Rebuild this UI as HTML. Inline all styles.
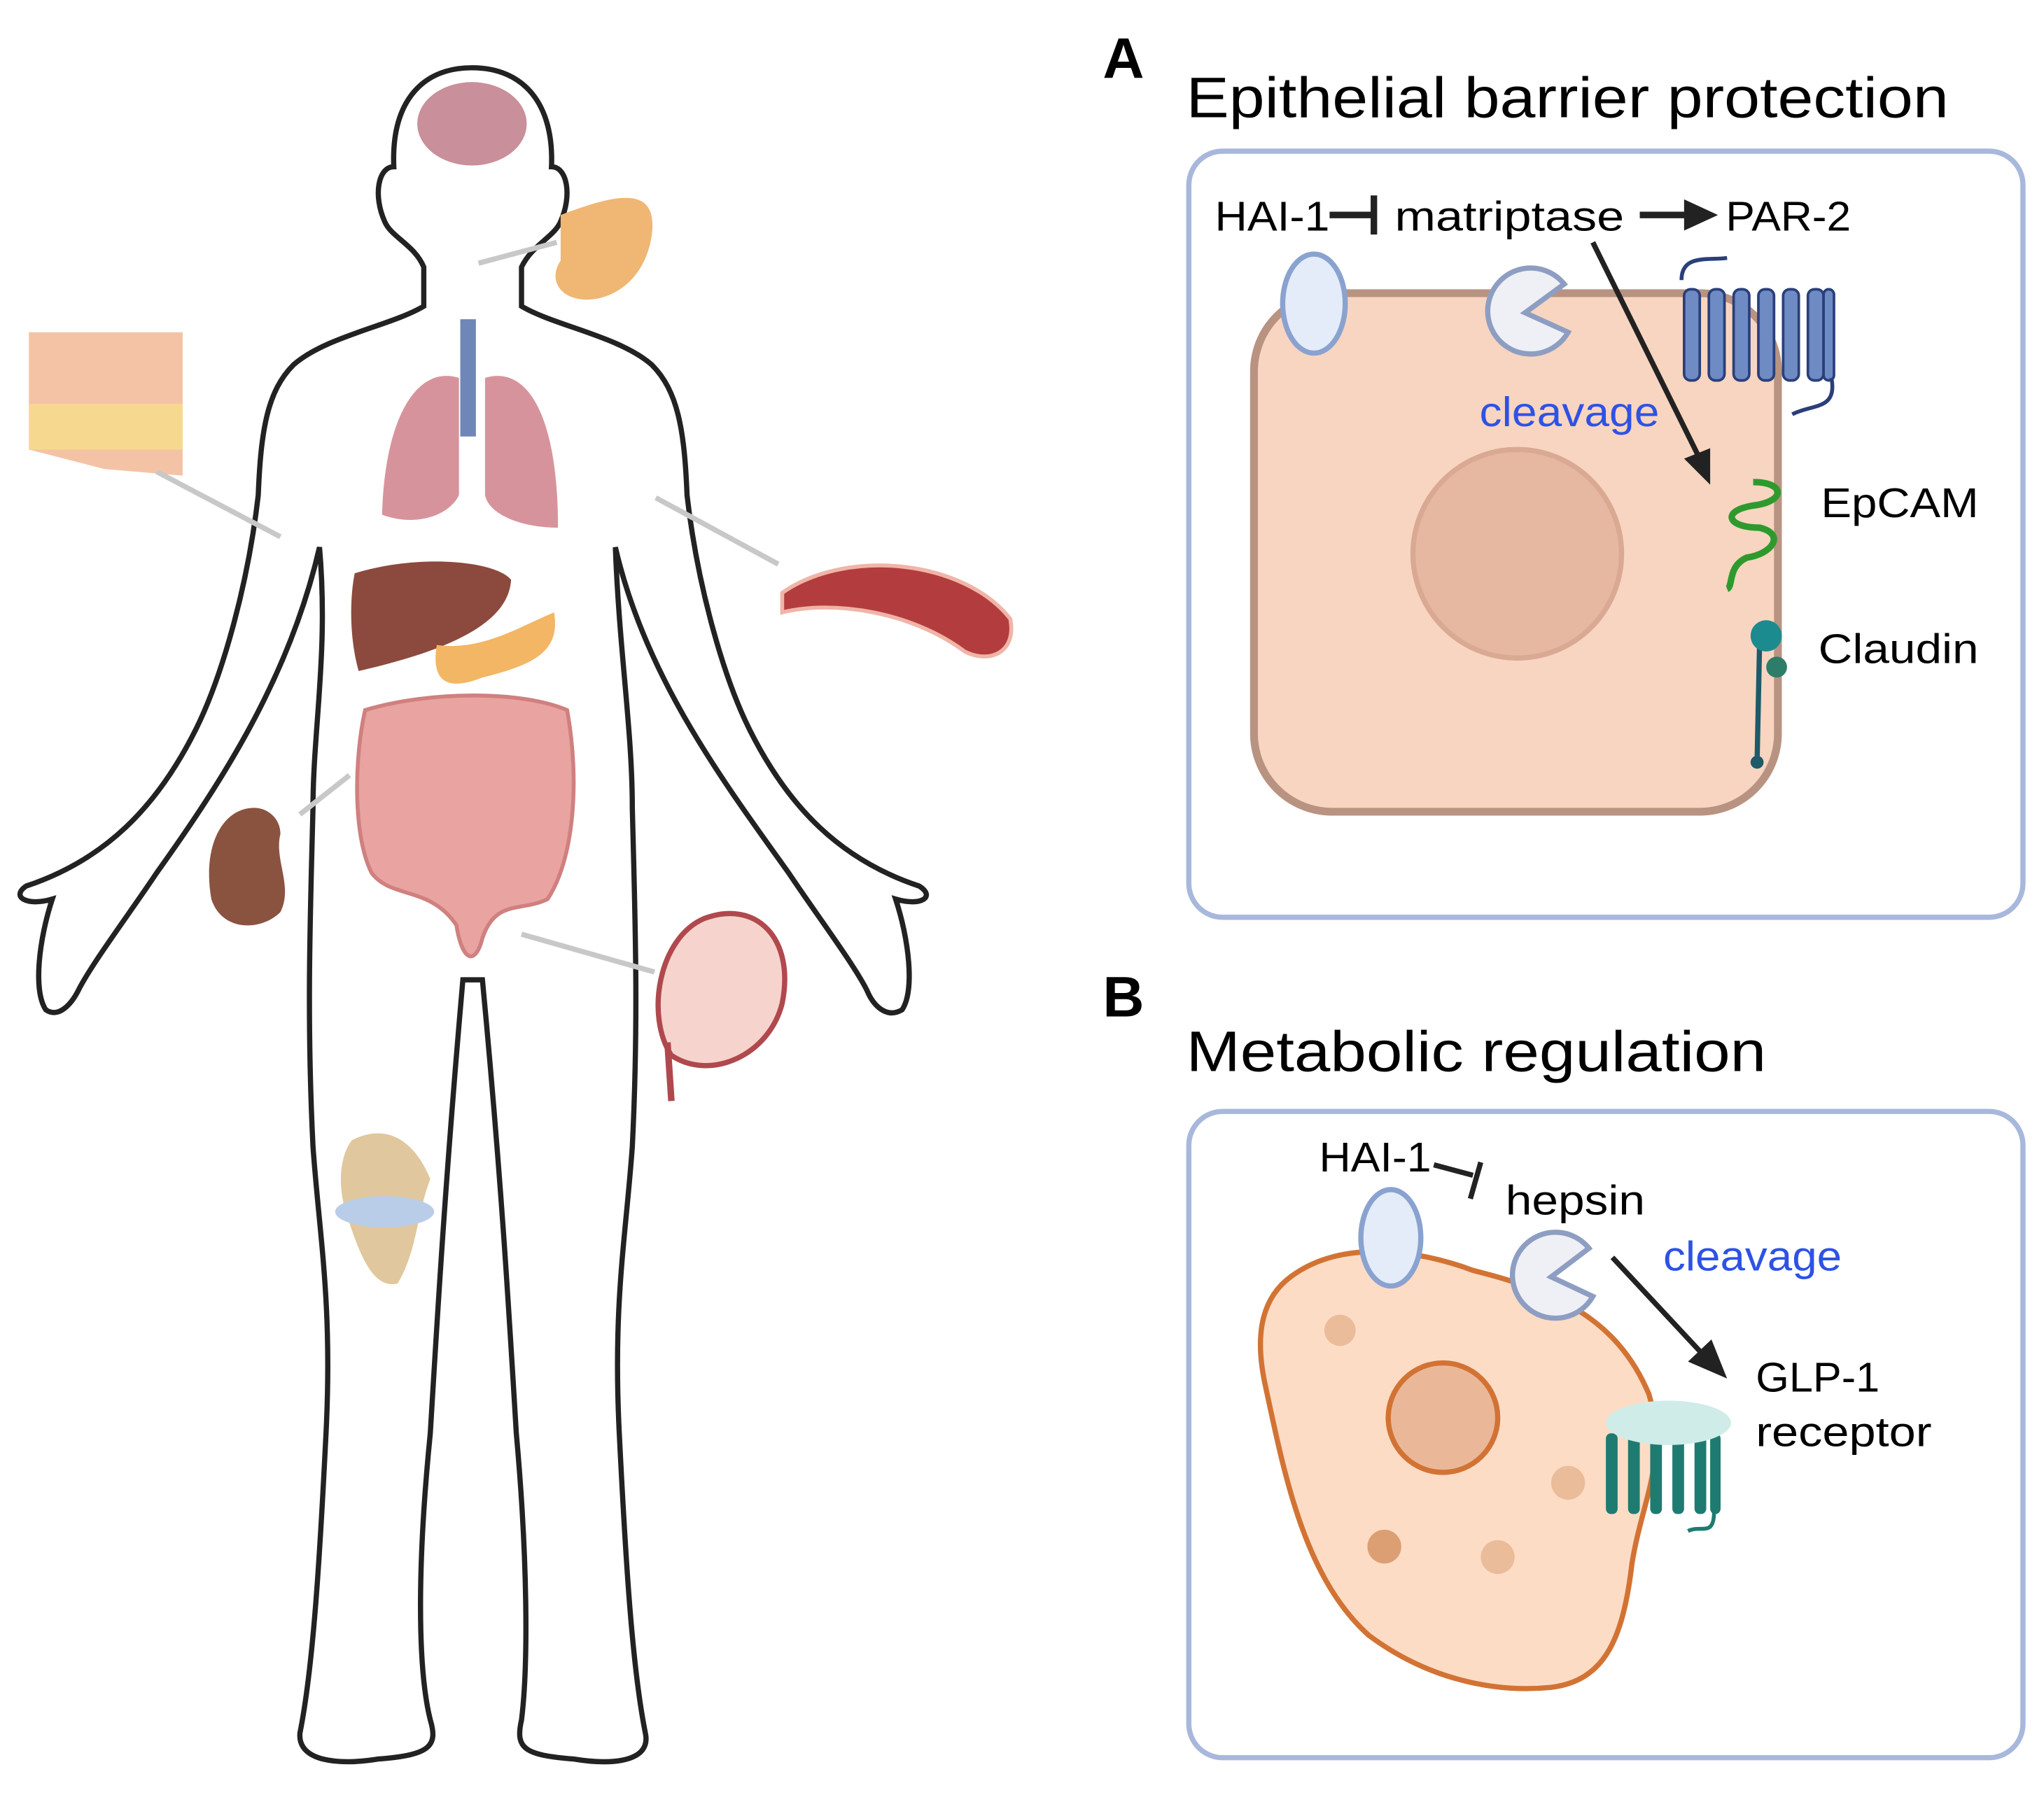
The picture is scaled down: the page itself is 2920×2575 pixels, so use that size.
<!DOCTYPE html>
<html><head><meta charset="utf-8"><style>html,body{margin:0;padding:0;background:#fff}svg{display:block}text{font-family:"Liberation Sans",sans-serif}</style></head><body>
<svg width="2920" height="2575" viewBox="0 0 1568 1383" xmlns="http://www.w3.org/2000/svg">
<rect width="1568" height="1383" fill="#fff"/>
<path d="M362,52 C322,52 300,80 302,128 C290,128 286,150 295,170 C300,182 318,188 325,205 L325,235 C300,250 250,258 225,280 C205,300 200,330 198,380 C190,450 170,520 150,560 C120,620 80,660 20,680 C8,688 20,696 40,690 C30,720 25,760 35,775 C45,782 55,770 60,760 C70,740 100,700 120,670 C170,600 222,520 245,420 C252,500 240,560 240,620 C238,700 235,780 240,880 C245,950 255,1000 250,1100 C245,1200 240,1280 230,1330 C228,1352 260,1355 290,1350 C330,1347 336,1340 330,1320 C320,1280 320,1200 330,1100 C336,1000 342,900 355,752 L370,752 C384,900 390,1000 396,1100 C405,1200 405,1280 400,1320 C395,1342 402,1347 440,1350 C470,1355 500,1352 495,1330 C485,1280 480,1200 475,1100 C470,1000 480,950 485,880 C490,780 487,700 485,620 C485,560 475,500 472,420 C495,520 555,600 605,670 C625,700 655,740 665,760 C670,772 680,782 692,775 C702,760 697,720 687,690 C707,696 718,688 705,680 C645,660 605,620 575,560 C555,520 535,450 527,380 C525,330 520,300 500,280 C475,258 425,250 400,235 L400,205 C408,188 425,182 430,170 C439,150 435,128 423,128 C425,80 402,52 362,52 Z" fill="#fff" stroke="#222" stroke-width="4"/>
<ellipse cx="362" cy="95" rx="42" ry="32" fill="#c98f9a"/>
<rect x="353" y="245" width="12" height="90" fill="#6f86b8"/>
<path d="M352,290 C320,280 295,320 293,395 C320,405 345,395 352,380 Z" fill="#d7939c"/>
<path d="M372,290 C405,280 428,320 428,405 C400,405 375,395 372,380 Z" fill="#d7939c"/>
<path d="M272,440 C320,425 380,430 392,445 C390,480 340,500 275,515 C268,490 268,460 272,440 Z" fill="#8b4a3d"/>
<path d="M335,495 C370,500 400,480 425,470 C430,500 410,510 370,520 C345,530 330,525 335,495 Z" fill="#f2b664"/>
<path d="M280,545 C330,530 400,530 435,545 C445,600 440,660 420,690 C400,700 380,690 370,720 C365,740 355,740 350,710 C330,680 300,690 285,670 C270,640 272,580 280,545 Z" fill="#e9a3a1" stroke="#cf807f" stroke-width="3"/>
<path d="M195,620 C170,620 155,650 162,690 C170,715 200,715 215,700 C225,680 210,660 215,640 C215,628 205,620 195,620 Z" fill="#8a5340"/>
<path d="M430,165 C470,150 505,140 500,180 C495,215 470,230 450,230 C430,230 420,215 430,200 Z" fill="#efb773"/>
<path d="M22,255 L140,255 L140,365 L80,360 L22,345 Z" fill="#f4c3a5"/>
<rect x="22" y="310" width="118" height="35" fill="#f6d98f"/>
<path d="M600,455 C650,420 740,430 775,475 C780,500 760,510 740,500 C700,470 640,460 600,470 Z" fill="#b33d3e" stroke="#f0b4a8" stroke-width="3"/>
<path d="M540,705 C580,690 610,720 600,770 C590,810 545,830 515,810 C495,780 505,720 540,705 Z" fill="#f7d3ce" stroke="#b0494d" stroke-width="4"/>
<path d="M512,800 L515,845" stroke="#b0494d" stroke-width="5"/>
<path d="M270,875 C300,860 320,880 330,905 C320,930 320,960 305,985 C285,990 275,960 265,930 C258,905 262,885 270,875 Z" fill="#e0c79d"/>
<ellipse cx="295" cy="930" rx="38" ry="12" fill="#b9cde8"/>
<g stroke="#c8c8c8" stroke-width="4">
<line x1="367" y1="202" x2="427" y2="186"/><line x1="120" y1="362" x2="215" y2="412"/>
<line x1="503" y1="382" x2="597" y2="433"/><line x1="230" y1="625" x2="268" y2="595"/>
<line x1="400" y1="717" x2="502" y2="746"/></g>
<text x="846" y="60" font-size="44" font-weight="bold">A</text>
<text x="910" y="90" font-size="44" textLength="585" lengthAdjust="spacingAndGlyphs">Epithelial barrier protection</text>
<rect x="912" y="116" width="640" height="588" rx="26" fill="#fff" stroke="#a8b8dc" stroke-width="4"/>
<rect x="962" y="225" width="402" height="398" rx="60" fill="#f8d5c0" stroke="#b99381" stroke-width="6"/>
<circle cx="1164" cy="425" r="80" fill="#e6b8a2" stroke="#d9a993" stroke-width="4"/>
<ellipse cx="1008" cy="233" rx="24" ry="38" fill="#e3ecf8" stroke="#8aa2cf" stroke-width="4"/>
<path d="M1203,255 A33,33 0 1 1 1200,218 L1170,240 Z" fill="#eef0f5" stroke="#8e9ec2" stroke-width="4"/>
<g fill="#6f8bc4" stroke="#2a3f7a" stroke-width="2">
<rect x="1292" y="222" width="12" height="70" rx="5"/><rect x="1311" y="222" width="12" height="70" rx="5"/><rect x="1330" y="222" width="12" height="70" rx="5"/><rect x="1349" y="222" width="12" height="70" rx="5"/><rect x="1368" y="222" width="12" height="70" rx="5"/><rect x="1387" y="222" width="12" height="70" rx="5"/><rect x="1399" y="222" width="8" height="70" rx="4"/></g>
<path d="M1290,215 C1290,195 1310,200 1325,198 M1405,290 C1410,315 1390,310 1375,318" fill="none" stroke="#2a3f7a" stroke-width="3"/>
<path d="M1345,370 C1370,370 1370,385 1345,388 C1320,392 1325,405 1350,405 C1370,410 1360,425 1340,428 C1325,435 1330,450 1325,452" fill="none" stroke="#2e9a2e" stroke-width="5"/>
<line x1="1350" y1="490" x2="1348" y2="585" stroke="#1e5a6a" stroke-width="4"/>
<circle cx="1355" cy="488" r="12" fill="#1c8b8f"/><circle cx="1363" cy="512" r="8" fill="#2e7d6a"/><circle cx="1348" cy="585" r="5" fill="#1e5a6a"/>
<text x="932" y="177" font-size="32" textLength="88" lengthAdjust="spacingAndGlyphs">HAI-1</text>
<path d="M1020,165 L1052,165 M1054,150 L1054,180" stroke="#222" stroke-width="5"/>
<text x="1070" y="177" font-size="32" textLength="176" lengthAdjust="spacingAndGlyphs">matriptase</text>
<path d="M1258,165 L1296,165" stroke="#222" stroke-width="5"/><path d="M1292,153 L1318,165 L1292,177 Z" fill="#222"/>
<text x="1324" y="177" font-size="32" textLength="96" lengthAdjust="spacingAndGlyphs">PAR-2</text>
<line x1="1222" y1="186" x2="1303" y2="350" stroke="#222" stroke-width="4"/><path d="M1292,352 L1312,372 L1312,344 Z" fill="#222"/>
<text x="1135" y="327" font-size="32" fill="#2e52e6" textLength="138" lengthAdjust="spacingAndGlyphs">cleavage</text>
<text x="1397" y="397" font-size="32" textLength="121" lengthAdjust="spacingAndGlyphs">EpCAM</text>
<text x="1395" y="509" font-size="32" textLength="123" lengthAdjust="spacingAndGlyphs">Claudin</text>
<text x="846" y="780" font-size="44" font-weight="bold">B</text>
<text x="910" y="822" font-size="44" textLength="445" lengthAdjust="spacingAndGlyphs">Metabolic regulation</text>
<rect x="912" y="853" width="640" height="496" rx="26" fill="#fff" stroke="#a8b8dc" stroke-width="4"/>
<path d="M990,980 C1030,950 1090,960 1130,975 C1190,990 1240,1010 1265,1070 C1280,1120 1260,1150 1252,1200 C1245,1260 1230,1290 1190,1295 C1140,1300 1090,1285 1050,1255 C1000,1210 985,1130 970,1060 C962,1020 970,995 990,980 Z" fill="#fddcc6" stroke="#d27334" stroke-width="4"/>
<ellipse cx="1107" cy="1088" rx="42" ry="42" fill="#eab899" stroke="#d27334" stroke-width="4"/>
<circle cx="1028" cy="1021" r="12" fill="#ebbc9a"/><circle cx="1203" cy="1138" r="13" fill="#ebbc9a"/><circle cx="1062" cy="1187" r="13" fill="#dc9f73"/><circle cx="1149" cy="1195" r="13" fill="#ebbc9a"/>
<ellipse cx="1067" cy="950" rx="23" ry="37" fill="#e3ecf8" stroke="#8aa2cf" stroke-width="4"/>
<path d="M1222,995 A33,33 0 1 1 1219,958 L1190,980 Z" fill="#eef0f5" stroke="#8e9ec2" stroke-width="4"/>
<g fill="#1e7b72"><rect x="1232" y="1100" width="9" height="62" rx="4"/><rect x="1249" y="1100" width="9" height="62" rx="4"/><rect x="1266" y="1100" width="9" height="62" rx="4"/><rect x="1283" y="1100" width="9" height="62" rx="4"/><rect x="1300" y="1100" width="9" height="62" rx="4"/><rect x="1312" y="1100" width="8" height="62" rx="4"/></g>
<ellipse cx="1280" cy="1092" rx="48" ry="17" fill="#cfece8"/>
<path d="M1315,1160 C1315,1180 1305,1170 1295,1175" fill="none" stroke="#1e7b72" stroke-width="3"/>
<text x="1012" y="899" font-size="32" textLength="86" lengthAdjust="spacingAndGlyphs">HAI-1</text>
<path d="M1100,894 L1130,902 M1136,892 L1128,920" stroke="#222" stroke-width="4"/>
<text x="1155" y="932" font-size="32" textLength="107" lengthAdjust="spacingAndGlyphs">hepsin</text>
<text x="1276" y="975" font-size="32" fill="#2e52e6" textLength="137" lengthAdjust="spacingAndGlyphs">cleavage</text>
<line x1="1237" y1="965" x2="1305" y2="1038" stroke="#222" stroke-width="4"/><path d="M1295,1045 L1325,1058 L1313,1028 Z" fill="#222"/>
<text x="1347" y="1068" font-size="32" textLength="95" lengthAdjust="spacingAndGlyphs">GLP-1</text>
<text x="1347" y="1110" font-size="32" textLength="135" lengthAdjust="spacingAndGlyphs">receptor</text>
</svg>
</body></html>
